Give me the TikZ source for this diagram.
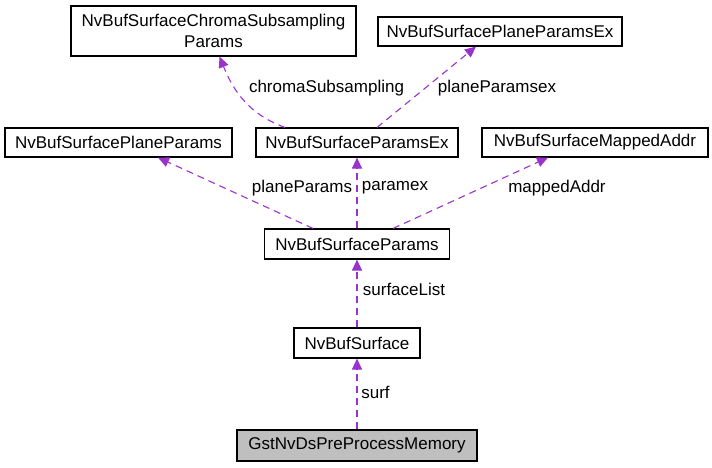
\documentclass[tikz,border=0pt]{standalone}
\usepackage{fontspec}
\setmainfont{Liberation Sans}
\usetikzlibrary{arrows.meta}
\definecolor{depcol}{HTML}{9A32CD}
\definecolor{curcol}{HTML}{BFBFBF}
\tikzset{
	cls/.style={draw, line width=1.1pt, inner sep=0pt, minimum height=29pt, font=\fontsize{17}{21}\selectfont},
	dep/.style={draw=depcol, line width=1.1pt, dash pattern=on 7pt off 5pt, -{Triangle[length=11pt,width=10pt,fill=depcol]}},
	lbl/.style={inner sep=0pt, font=\fontsize{17}{21}\selectfont}
}
\begin{document}
\begin{tikzpicture}[x=1pt, y=-1pt]
				\useasboundingbox (0,0) rectangle (712,467);
				\node[cls, minimum width=285pt, minimum height=50pt, align=center] (chroma) at (213.5,31) {NvBufSurfaceChromaSubsampling\\Params};
				\node[cls, minimum width=244pt] (planeEx) at (500,31.5) {NvBufSurfacePlaneParamsEx};
				\node[cls, minimum width=227pt] (planeParams) at (118.5,142.5) {NvBufSurfacePlaneParams};
				\node[cls, minimum width=202pt] (paramsEx) at (357,142.5) {NvBufSurfaceParamsEx};
				\node[cls, minimum width=226pt] (mapped) at (595,142.5) {NvBufSurfaceMappedAddr};
				\node[cls, minimum width=185pt, minimum height=30pt] (params) at (357,244) {NvBufSurfaceParams};
				\node[cls, minimum width=126pt, minimum height=30pt] (nvbuf) at (357,343) {NvBufSurface};
				\node[cls, fill=curcol, minimum width=240pt, minimum height=31pt] (gst) at (357,445.5) {GstNvDsPreProcessMemory};
				\draw[dep] (gst) -- (nvbuf);
				\draw[dep] (nvbuf) -- (params);
				\draw[dep] (params) -- (paramsEx);
				\draw[dep] ([xshift=-44pt]params.north) -- ([xshift=39.5pt]planeParams.south);
				\draw[dep] ([xshift=36pt]params.north) -- ([xshift=-47pt]mapped.south);
				\draw[dep] ([xshift=-72pt]paramsEx.north) to[out=160, in=-68] ([xshift=6pt]chroma.south);
				\draw[dep] ([xshift=20pt]paramsEx.north) -- ([xshift=-24pt]planeEx.south);
				\node[lbl] (lchroma) at (326.5,88) {chromaSubsampling};
				\node[lbl] (lplaneEx) at (497,88) {planeParamsex};
				\node[lbl] (lplane) at (302,188) {planeParams};
				\node[lbl] (lparamex) at (395,188) {paramex};
				\node[lbl] (lmapped) at (557,188) {mappedAddr};
				\node[lbl] (lsurflist) at (404,289) {surfaceList};
				\node[lbl] (lsurf) at (375.5,392) {surf};
			\end{tikzpicture}
\end{document}
